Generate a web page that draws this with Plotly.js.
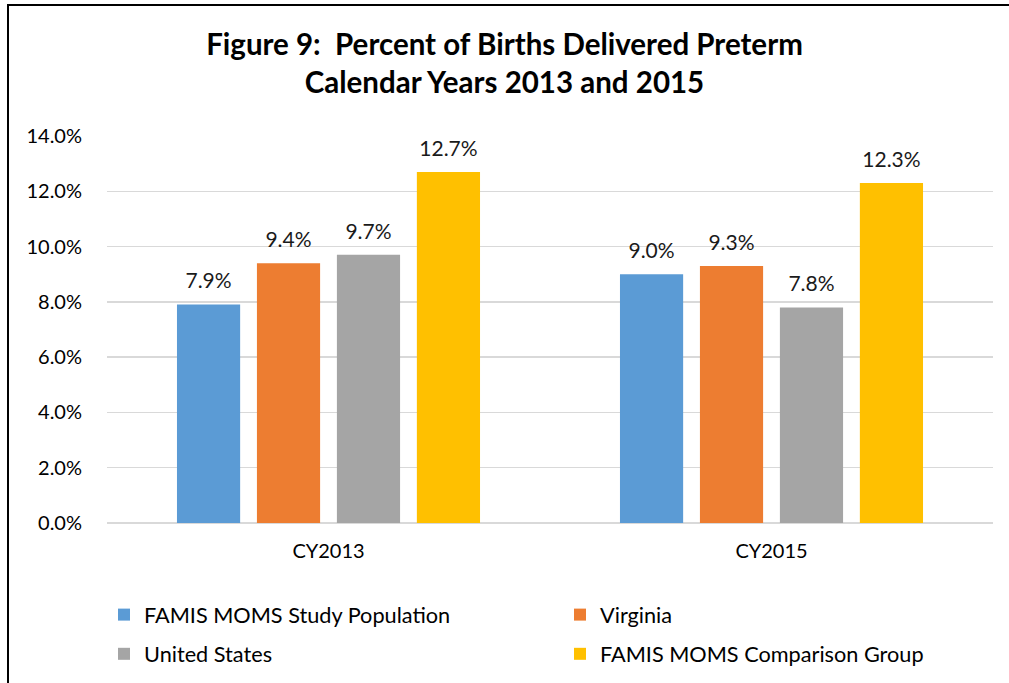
<!DOCTYPE html>
<html>
<head>
<meta charset="utf-8">
<script src="https://cdn.plot.ly/plotly-3.0.1.min.js"></script>
<style>
  html, body { margin: 0; padding: 0; background: #fff; }
  #chart { width: 1009px; height: 683px; position: absolute; left: 0; top: 0; }
  #frame { position: absolute; left: 7px; top: 4px; width: 1010px; height: 700px;
           border-left: 2px solid #000; border-top: 2px solid #000; pointer-events: none; }
</style>
</head>
<body>
<div id="chart"></div>
<div id="frame"></div>
<script>
const categories = ["CY2013", "CY2015"];
const seriesNames = ["FAMIS MOMS Study Population", "Virginia", "United States", "FAMIS MOMS Comparison Group"];
const studyPopulation = [7.9, 9.0];
const virginia = [9.4, 9.3];
const unitedStates = [9.7, 7.8];
const comparisonGroup = [12.7, 12.3];
const colors = ["#5b9bd5", "#ed7d31", "#a5a5a5", "#ffc000"];
const yTicks = [0, 2, 4, 6, 8, 10, 12, 14];

const values = [studyPopulation, virginia, unitedStates, comparisonGroup];
const font = "Lato, 'Open Sans', sans-serif";
// which legend column each series is listed in (left column / right column)
const legendIds = ["legend", "legend2", "legend", "legend2"];

const barTraces = values.map((v, i) => ({
  type: "bar",
  name: seriesNames[i],
  x: categories,
  y: v,
  marker: { color: colors[i] },
  legend: legendIds[i],
  legendgroup: "g" + i,
  hoverinfo: "skip"
}));

const labelTraces = values.map((v, i) => ({
  type: "scatter",
  mode: "markers+text",
  x: categories,
  y: v,
  text: v.map(val => val.toFixed(1) + "%"),
  textposition: "top center",
  textfont: { family: font, size: 21, color: "#1a1a1a" },
  marker: { size: 16, color: "rgba(0,0,0,0)" },
  cliponaxis: false,
  showlegend: false,
  hoverinfo: "skip"
}));

const layout = {
  width: 1009,
  height: 683,
  margin: { l: 107, r: 16, t: 136, b: 160, autoexpand: false },
  paper_bgcolor: "#fff",
  plot_bgcolor: "#fff",
  font: { family: font, color: "#000", size: 20 },
  title: {
    text: "<b>Figure 9:  Percent of Births Delivered Preterm<br>Calendar Years 2013 and 2015</b>",
    font: { family: font, size: 29.5, color: "#000" },
    x: 0.5, xanchor: "center",
    yref: "container",
    y: 1 - 55 / 683, yanchor: "top"
  },
  barmode: "group",
  bargap: 0.278,
  bargroupgap: 0.21,
  scattermode: "group",
  scattergap: 0.278,
  xaxis: {
    showgrid: false,
    showline: false,
    ticks: "outside",
    ticklen: 10,
    tickcolor: "rgba(0,0,0,0)",
    tickfont: { family: font, size: 20, color: "#000" },
    automargin: false
  },
  yaxis: {
    range: [0, 14],
    tickvals: yTicks,
    ticktext: yTicks.map(t => t.toFixed(1) + "%"),
    showgrid: true,
    gridcolor: "#d9d9d9",
    gridwidth: 1.5,
    zeroline: true,
    zerolinecolor: "#d9d9d9",
    zerolinewidth: 1.5,
    showline: false,
    ticks: "outside",
    ticklen: 20,
    tickcolor: "rgba(0,0,0,0)",
    tickfont: { family: font, size: 20, color: "#000" },
    automargin: false
  },
  legend: {
    orientation: "v",
    xref: "container",
    yref: "container",
    x: 104 / 1009,
    xanchor: "left",
    y: 1 - 594 / 683,
    yanchor: "top",
    font: { family: font, size: 21.7, color: "#000" },
    tracegroupgap: 8,
    traceorder: "grouped"
  },
  legend2: {
    orientation: "v",
    xref: "container",
    yref: "container",
    x: 560 / 1009,
    xanchor: "left",
    y: 1 - 594 / 683,
    yanchor: "top",
    font: { family: font, size: 21.7, color: "#000" },
    tracegroupgap: 8,
    traceorder: "grouped"
  },
  showlegend: true
};

Plotly.newPlot("chart", barTraces.concat(labelTraces), layout, { displayModeBar: false, staticPlot: true });
</script>
</body>
</html>
